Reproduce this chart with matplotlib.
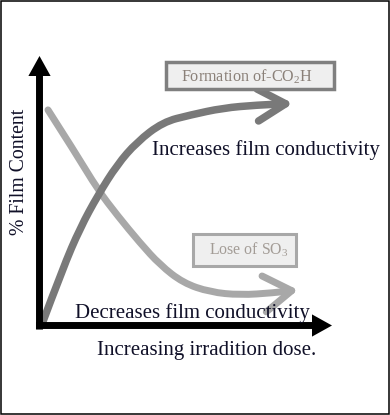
"""
Schematic: film content vs irradiation dose (formation of -CO2H, loss of SO3).
"""
import matplotlib
matplotlib.use("Agg")
import matplotlib.pyplot as plt
from matplotlib.patches import FancyArrowPatch, Rectangle
from matplotlib.path import Path

W, H = 390, 415
DPI = 100

# curves: x = dose, y = % film content (arrow tips = 100)
co2h_dose = [0.75, 8.0, 13.9, 20.0, 26.5, 33.3, 42.2, 51.5, 62.7, 74.4, 86.7]
co2h_content = [0.2, 21.3, 36.2, 48.4, 59.6, 68.1, 75.5, 78.1, 80.7, 81.8, 82.4]

so3_dose = [2.9, 12.1, 20.0, 26.5, 34.4, 41.2, 49.1, 58.3, 68.6, 79.8, 88.4]
so3_content = [80.0, 64.4, 50.3, 41.0, 30.6, 22.5, 15.8, 12.4, 11.3, 12.1, 13.2]

CO2H_COLOR = "#797979"
SO3_COLOR = "#a8a8a8"
TEXT_COLOR = "#101028"

plt.rcParams["mathtext.fontset"] = "custom"
plt.rcParams["mathtext.rm"] = "Liberation Serif"
SERIF = "Liberation Serif"


def px(x, y):
    """pixel position (top-left origin) -> figure fraction"""
    return x / W, 1 - y / H


def smooth_path(xs, ys):
    pts = list(zip(xs, ys))
    verts = [pts[0]]
    codes = [Path.MOVETO]
    for i in range(1, len(pts) - 1):
        mid = ((pts[i][0] + pts[i + 1][0]) / 2, (pts[i][1] + pts[i + 1][1]) / 2)
        verts += [pts[i], mid]
        codes += [Path.CURVE3, Path.CURVE3]
    verts.append(pts[-1])
    codes.append(Path.LINETO)
    return Path(verts, codes)


fig = plt.figure(figsize=(W / DPI, H / DPI), dpi=DPI)
ax = fig.add_axes([0, 0, 1, 1])
ax.axis("off")
# origin of the diagram sits at pixel (39.5, 325.5)
ax.set_xlim(-39.5 / 2.925, (W - 39.5) / 2.925)
ax.set_ylim((325.5 - H) / 2.695, 325.5 / 2.695)

# axes arrows
for a, b in [((0, -1.5), (0, 100)), ((-1.2, 0), (100, 0))]:
    ax.add_patch(FancyArrowPatch(
        a, b, arrowstyle="simple,head_length=14.4,head_width=16,tail_width=5",
        mutation_scale=1, shrinkA=0, shrinkB=0, lw=0, color="black", zorder=3))

# curves
ax.add_patch(FancyArrowPatch(
    path=smooth_path(so3_dose, so3_content),
    arrowstyle="->,head_length=20,head_width=13", mutation_scale=1,
    lw=5.0, color=SO3_COLOR, zorder=2))
ax.add_patch(FancyArrowPatch(
    path=smooth_path(co2h_dose, co2h_content),
    arrowstyle="->,head_length=20,head_width=11.5", mutation_scale=1,
    lw=5.4, color=CO2H_COLOR, zorder=2))

# label boxes
boxes = [
    ((166, 61.7), (334.3, 89.3), "#7f7f7f", 2.5),
    ((193.2, 234.2), (295.8, 265.8), "#a8a8a8", 2.2),
]
for (x0, y0), (x1, y1), ec, lw in boxes:
    fig.add_artist(Rectangle(px(x0, y1), (x1 - x0) / W, (y1 - y0) / H,
                             transform=fig.transFigure, facecolor="#efefef",
                             edgecolor=ec, lw=lw))

fig.text(*px(180.7, 81.7), r"Formation of-CO$_\mathrm{2}$H", fontsize=11.6,
         family=SERIF, color="#8a8078", va="baseline", ha="left")
fig.text(*px(209.3, 254.3), r"Lose of SO$_\mathrm{3}$", fontsize=11.4,
         family=SERIF, color="#a39c96", va="baseline", ha="left")

# annotations
fig.text(*px(151.7, 155), "Increases film conductivity", fontsize=15,
         family=SERIF, color=TEXT_COLOR, va="baseline", ha="left")
fig.text(*px(75, 318.3), "Decreases film conductivity", fontsize=15,
         family=SERIF, color=TEXT_COLOR, va="baseline", ha="left")
fig.text(*px(97.3, 355), "Increasing irradition dose.", fontsize=15,
         family=SERIF, color=TEXT_COLOR, va="baseline", ha="left")
fig.text(*px(20, 171.7), "% Film Content", fontsize=14.2, rotation=90,
         family=SERIF, color=TEXT_COLOR, va="center", ha="center")

# outer frame
fig.add_artist(Rectangle((0.6 / W, 0.6 / H), (W - 1.2) / W, (H - 1.2) / H,
                         transform=fig.transFigure, fill=False,
                         edgecolor="black", lw=1.1))

fig.savefig("out.png", dpi=DPI)
plt.close(fig)
